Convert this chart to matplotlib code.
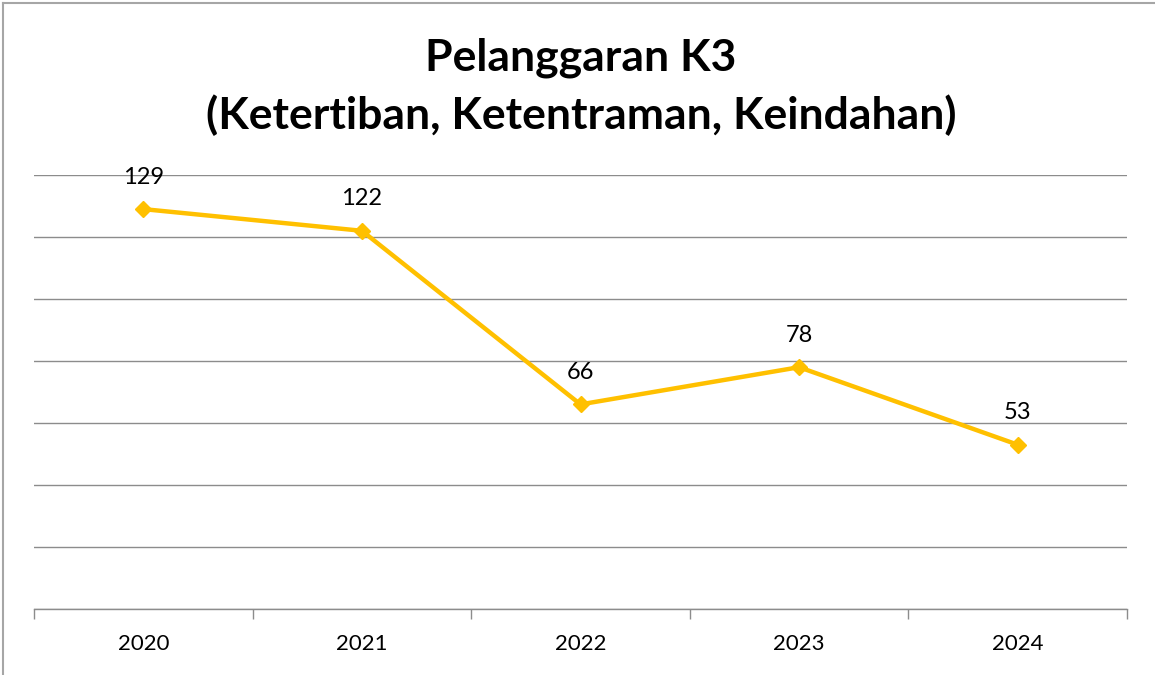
import matplotlib
matplotlib.use("Agg")
import matplotlib.pyplot as plt
from matplotlib.lines import Line2D

years = ["2020", "2021", "2022", "2023", "2024"]
cases = [129, 122, 66, 78, 53]
y_max = 140
y_step = 20

plt.rcParams["font.family"] = ["Lato", "DejaVu Sans"]

fig = plt.figure(figsize=(11.55, 6.75), dpi=100)
ax = fig.add_axes([34 / 1155, 1 - 609 / 675, (1127 - 34) / 1155, (609 - 175) / 675])

xs = list(range(len(years)))
ax.plot(xs, cases, color="#FFC000", lw=3.2, marker="D", ms=8, zorder=3)
for x, v in zip(xs, cases):
    ax.annotate(str(v), (x, v), xytext=(0, 23), textcoords="offset points",
                ha="center", va="center", fontsize=17, color="black")

ax.set_xlim(-0.5, len(years) - 0.5)
ax.set_ylim(0, y_max)
ax.set_yticks(range(0, y_max + 1, y_step))
ax.set_yticklabels([])
ax.tick_params(axis="y", length=0)
ax.grid(axis="y", color="#8c8c8c", lw=1)
ax.set_axisbelow(True)

ax.set_xticks(xs)
ax.set_xticklabels(years, fontsize=16)
ax.tick_params(axis="x", which="major", length=0, pad=18)
ax.set_xticks([i - 0.5 for i in range(len(years) + 1)], minor=True)
ax.tick_params(axis="x", which="minor", length=7, color="#8c8c8c", width=1)

for s in ["top", "right", "left"]:
    ax.spines[s].set_visible(False)
ax.spines["bottom"].set_color("#8c8c8c")
ax.spines["bottom"].set_linewidth(1)

fig.text(0.503, 1 - 58 / 675, "Pelanggaran K3", ha="center", va="center",
         fontsize=32, fontweight="bold")
fig.text(0.503, 1 - 115 / 675, "(Ketertiban, Ketentraman, Keindahan)", ha="center",
         va="center", fontsize=32, fontweight="bold")

# partial frame of the chart area (left and top edges)
fig.add_artist(Line2D([3 / 1155, 3 / 1155], [0, 1 - 3 / 675], color="#a6a6a6", lw=1.5))
fig.add_artist(Line2D([3 / 1155, 1], [1 - 3 / 675, 1 - 3 / 675], color="#a6a6a6", lw=1.5))

fig.savefig("out.png", dpi=100)
